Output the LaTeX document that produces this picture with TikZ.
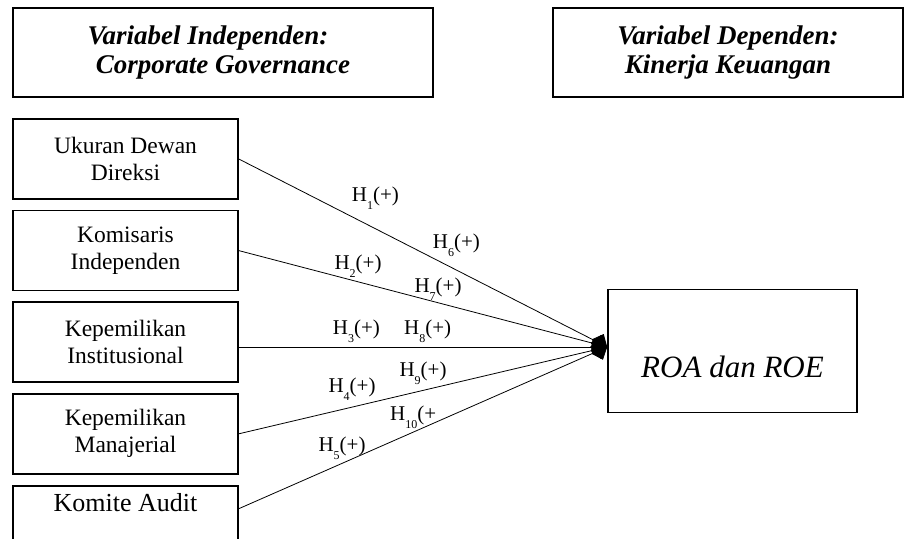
\documentclass[tikz,border=0pt]{standalone}
\usepackage{fontspec}
\setmainfont{Liberation Serif}
\usetikzlibrary{positioning,arrows.meta}
\tikzset{
  vr title/.style={
    rectangle,
    draw=black,
    line width=1.6pt,
    minimum height=89pt,
    align=center,
    font=\fontsize{27}{29}\selectfont\bfseries\itshape,
    inner sep=4pt,
  },
  vr indep/.style={
    rectangle,
    draw=black,
    line width=1.6pt,
    minimum width=225pt,
    minimum height=80pt,
    align=center,
    font=\fontsize{23.5}{27}\selectfont,
  },
  vr dep/.style={
    rectangle,
    draw=black,
    line width=1.6pt,
    minimum width=249pt,
    minimum height=123pt,
    font=\fontsize{31}{31}\selectfont\itshape,
  },
  vr label/.style={anchor=base west, inner sep=0pt, font=\fontsize{21}{21}\selectfont},
  vr arrow/.style={-{Kite[length=17pt,width=20pt,inset=8pt]}, line width=0.8pt},
}
\newcommand{\hlab}[2]{H\raisebox{-8pt}{\fontsize{12}{12}\selectfont #1}#2}

\begin{document}
\begin{tikzpicture}[x=1pt,y=-1pt,node distance=10pt]
  \clip (0,0) rectangle (907,538);

  % variable headings
  \node[vr title,minimum width=420pt] (indtitle) at (223,52.5) {Variabel Independen:\hspace*{30pt}\\Corporate Governance};
  \node[vr title,minimum width=350pt] (deptitle) at (728,52.5) {Variabel Dependen:\\Kinerja Keuangan};

  % independent variables
  \node[vr indep] (ukuran) at (125.5,159) {Ukuran Dewan\\Direksi};
  \node[vr indep,below=of ukuran] (komisaris) {Komisaris\\Independen};
  \node[vr indep,below=of komisaris] (institusi) {Kepemilikan\\Institusional};
  \node[vr indep,below=of institusi] (manajerial) {Kepemilikan\\Manajerial};
  \node[vr indep,below=of manajerial,line width=2pt,text height=22pt,text depth=50pt,
        font=\fontsize{26}{27}\selectfont] (audit) {Komite Audit};

  % dependent variable
  \node[vr dep,text height=58pt,text depth=6pt] (roa) at (732.5,351) {ROA dan ROE};
  \coordinate (hub) at ([yshift=4pt]roa.west);

  \draw[vr arrow] (ukuran.east) -- (hub);
  \draw[vr arrow] (komisaris.east) -- (hub);
  \draw[vr arrow] (institusi.east |- hub) -- (hub);
  \draw[vr arrow] (manajerial.east) -- (hub);
  \draw[vr arrow] ([yshift=-24pt]audit.north east) -- (hub);

  % hypotheses
  \node[vr label] (h1) at (351.7,201.7) {\hlab{1}{(+)}};
  \node[vr label] (h6) at (432.7,248.3) {\hlab{6}{(+)}};
  \node[vr label] (h2) at (334.3,269.3) {\hlab{2}{(+)}};
  \node[vr label] (h7) at (414.3,292.7) {\hlab{7}{(+)}};
  \node[vr label] (h3) at (332.7,334.3) {\hlab{3}{(+)}};
  \node[vr label] (h8) at (404,334.3) {\hlab{8}{(+)}};
  \node[vr label] (h9) at (399.3,376) {\hlab{9}{(+)}};
  \node[vr label] (h4) at (328.3,392.7) {\hlab{4}{(+)}};
  \node[vr label] (h10) at (390,420.7) {\hlab{10}{(+}};
  \node[vr label] (h5) at (318.3,451.7) {\hlab{5}{(+)}};
\end{tikzpicture}
\end{document}
